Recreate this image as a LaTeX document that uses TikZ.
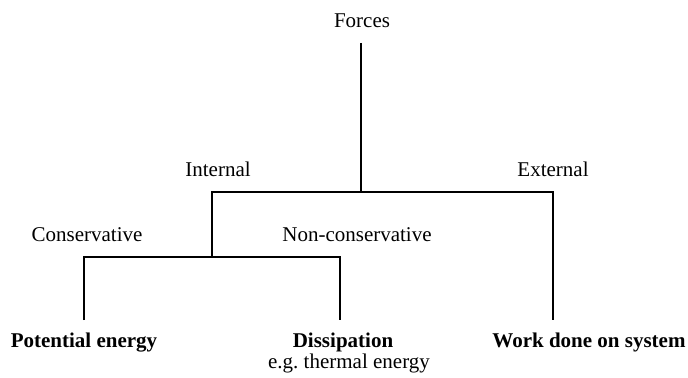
\documentclass[tikz,border=0pt]{standalone}
\usepackage{fontspec}
\setmainfont{Liberation Serif}
\usetikzlibrary{positioning}

\begin{document}
\begin{tikzpicture}[x=0.5pt,y=-0.5pt,t/.style={anchor=base,inner sep=0pt,font=\fontsize{10.5}{12}\selectfont},b/.style={t,font=\fontsize{10.5}{12}\selectfont\bfseries},br/.style={line width=1.4pt}]
\useasboundingbox (0,0) rectangle (688,378);
% junctions
\coordinate (top) at (361,43); \coordinate (j1) at (361,192);
\coordinate (j2) at (212,257);
\coordinate (pe) at (84,320); \coordinate (de) at (340,320); \coordinate (we) at (553,320);
% labels
\node[t] (f) at (362,28) {Forces};
\node[t] (i) at (218,177) {Internal};
\node[t] (x) at (553,177) {External};
\node[t] (c) at (87,242) {Conservative};
\node[t] (n) at (357,242) {Non-conservative};
\node[b] (p) at (84,347) {Potential energy};
\node[b] (d) at (343,347) {Dissipation};
\node[t] (g) at (349,368) {e.g.\ thermal energy};
\node[b] (w) at (589,347) {Work done on system};
% branches
\draw[br] (top) -- (j1);
\draw[br] (j2) |- (j1) -| (we);
\draw[br] (pe) |- (j2) -| (de);
\end{tikzpicture}
\end{document}
